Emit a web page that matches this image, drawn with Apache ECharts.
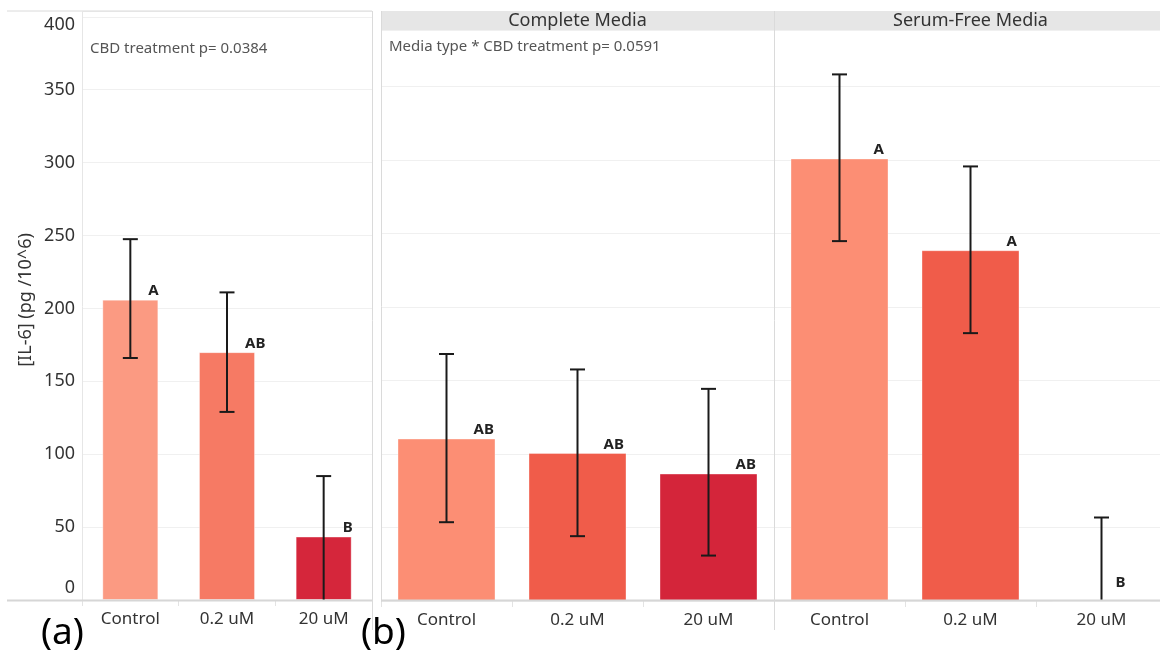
<!DOCTYPE html>
<html>
<head>
<meta charset="utf-8">
<script src="https://cdn.jsdelivr.net/npm/echarts@6/dist/echarts.min.js"></script>
<style>
  html, body { margin: 0; padding: 0; background: #fff; overflow: hidden; }
  #chart { width: 1170px; height: 650px; }
</style>
</head>
<body>
<div id="chart"></div>
<script>
// IL-6 concentration by CBD treatment, overall (a) and split by media type (b)
const categories = ['Control', '0.2 uM', '20 uM'];
const yTicks = [0, 50, 100, 150, 200, 250, 300, 350, 400];

// (a) CBD treatment main effect
const panelAMean = [206, 170, 43.5];
const panelALow = [166, 129, 0];
const panelAHigh = [247.5, 211, 85];
const panelALetters = ['A', 'AB', 'B'];

// (b) Complete Media
const completeMean = [110.5, 100.7, 86.7];
const completeLow = [53.6, 44.1, 30.9];
const completeHigh = [168, 157.5, 144.3];
const completeLetters = ['AB', 'AB', 'AB'];

// (b) Serum-Free Media
const serumMean = [301, 238.6, 0];
const serumLow = [244.8, 182.2, 0];
const serumHigh = [358.2, 295.6, 56.8];
const serumLetters = ['A', 'A', 'B'];

const panelTitles = ['Complete Media', 'Serum-Free Media'];
const noteA = 'CBD treatment p= 0.0384';
const noteB = 'Media type * CBD treatment p= 0.0591';
const yTitle = '[IL-6] (pg /10^6)';

// styling
const FONT = 'Noto Sans';
const colorsA = ['#FB9A82', '#F67A64', '#D5263B'];
const colorsB = ['#FC8E74', '#F05C4A', '#D4253A'];
const frame = '#DADADA';
const gridLine = '#F0F0F0';

// letter placement relative to each bar's top centre
const letterShift = {
  a: [[18, 0], [18, 0], [19, 0]],
  complete: [[27, 0], [26, 0], [27, 0]],
  serum: [[34, 0], [36, 0], [14, -9]]
};

const chart = echarts.init(document.getElementById('chart'), null, { renderer: 'canvas' });

function barSeries(idx, mean, colors, letters, shifts, width) {
  return {
    type: 'bar',
    xAxisIndex: idx,
    yAxisIndex: idx,
    barWidth: width,
    z: 2,
    data: mean.map((v, i) => ({
      value: v,
      itemStyle: { color: colors[i], borderColor: 'rgba(255,255,255,0.35)', borderWidth: 1 },
      label: { offset: shifts[i] }
    })),
    label: {
      show: true,
      position: 'top',
      distance: 1,
      align: 'left',
      fontFamily: FONT,
      fontSize: 15,
      fontWeight: 'bold',
      color: '#222',
      formatter: p => letters[p.dataIndex]
    }
  };
}

function errorSeries(idx, low, high) {
  return {
    type: 'custom',
    xAxisIndex: idx,
    yAxisIndex: idx,
    z: 5,
    silent: true,
    data: low.map((l, i) => [i, l, high[i]]),
    renderItem: (params, api) => {
      const i = api.value(0);
      const lo = api.value(1);
      const hi = api.value(2);
      const top = api.coord([i, hi]);
      const bot = api.coord([i, Math.max(lo, 0)]);
      const style = { stroke: '#1a1a1a', lineWidth: 2 };
      const half = 7.5;
      const children = [
        { type: 'line', shape: { x1: top[0], y1: top[1], x2: bot[0], y2: bot[1] }, style },
        { type: 'line', shape: { x1: top[0] - half, y1: top[1], x2: top[0] + half, y2: top[1] }, style }
      ];
      if (lo > 0) {
        children.push({ type: 'line', shape: { x1: bot[0] - half, y1: bot[1], x2: bot[0] + half, y2: bot[1] }, style });
      }
      return { type: 'group', children };
    }
  };
}

function xAxis(idx) {
  return {
    type: 'category',
    gridIndex: idx,
    data: categories,
    axisLine: { show: false },
    axisTick: { show: true, length: 6, lineStyle: { color: '#E3E3E3' } },
    axisLabel: { fontFamily: FONT, fontSize: 17, color: '#333', margin: 11 }
  };
}

function yAxis(idx, max, showLabels) {
  return {
    type: 'value',
    gridIndex: idx,
    min: 0,
    max: max,
    interval: 50,
    axisLine: { show: false },
    axisTick: { show: false },
    splitLine: { lineStyle: { color: gridLine, width: 1 } },
    axisLabel: {
      show: showLabels,
      fontFamily: FONT,
      fontSize: 18,
      color: '#333',
      margin: 7,
      formatter: v => {
        if (!yTicks.includes(v)) return '';
        if (v === yTicks[0]) return '{lo|' + v + '}';
        if (v === yTicks[yTicks.length - 1]) return '{hi|' + v + '}';
        return String(v);
      },
      rich: {
        lo: { fontFamily: FONT, fontSize: 18, color: '#333', padding: [0, 0, 24, 0] },
        hi: { fontFamily: FONT, fontSize: 18, color: '#333', padding: [16, 0, 0, 0] }
      }
    }
  };
}

const line = (x1, y1, x2, y2, color, w) => ({
  type: 'line', silent: true, z: 10,
  shape: { x1, y1, x2, y2 },
  style: { stroke: color, lineWidth: w || 1 }
});

const option = {
  backgroundColor: '#fff',
  animation: false,
  grid: [
    { left: 82, top: 11, width: 290, height: 589 },
    { left: 381, top: 30, width: 393, height: 571 },
    { left: 774, top: 30, width: 393, height: 571 }
  ],
  xAxis: [xAxis(0), xAxis(1), xAxis(2)],
  yAxis: [yAxis(0, 404, true), yAxis(1, 388.4, false), yAxis(2, 388.4, false)],
  series: [
    barSeries(0, panelAMean, colorsA, panelALetters, letterShift.a, 56),
    errorSeries(0, panelALow, panelAHigh),
    barSeries(1, completeMean, colorsB, completeLetters, letterShift.complete, 98),
    errorSeries(1, completeLow, completeHigh),
    barSeries(2, serumMean, colorsB, serumLetters, letterShift.serum, 98),
    errorSeries(2, serumLow, serumHigh)
  ],
  graphic: [
    // panel frames
    line(7, 11, 372, 11, frame),
    line(82.5, 11, 82.5, 602, '#E6E6E6'),
    line(372.5, 11, 372.5, 630, frame),
    line(7, 600.5, 372, 600.5, '#D6D6D6', 2),
    line(381.5, 11, 381.5, 602, frame),
    line(381, 600.5, 1170, 600.5, '#D6D6D6', 2),
    line(774.5, 11, 774.5, 630, frame),
    // facet headers
    { type: 'rect', silent: true, z: 9, shape: { x: 382, y: 11, width: 788, height: 19 }, style: { fill: '#E6E6E6' } },
    { type: 'text', silent: true, z: 11, style: { x: 577.5, y: 21, text: panelTitles[0], align: 'center', verticalAlign: 'middle', font: '18px "' + FONT + '"', fill: '#333' } },
    { type: 'text', silent: true, z: 11, style: { x: 970.5, y: 21, text: panelTitles[1], align: 'center', verticalAlign: 'middle', font: '18px "' + FONT + '"', fill: '#333' } },
    // test annotations
    { type: 'text', silent: true, z: 11, style: { x: 90, y: 49, text: noteA, align: 'left', verticalAlign: 'middle', font: '15px "' + FONT + '"', fill: '#555' } },
    { type: 'text', silent: true, z: 11, style: { x: 389, y: 47, text: noteB, align: 'left', verticalAlign: 'middle', font: '15px "' + FONT + '"', fill: '#555' } },
    // y axis title
    { type: 'text', silent: true, z: 11, rotation: Math.PI / 2, x: 26, y: 300, style: { x: 0, y: 0, text: yTitle, align: 'center', verticalAlign: 'middle', font: '18px "' + FONT + '"', fill: '#333' } },
    // panel tags
    { type: 'text', silent: true, z: 12, style: { x: 41, y: 633, text: '(a)', align: 'left', verticalAlign: 'middle', font: '37px "' + FONT + '"', fill: '#000' } },
    { type: 'text', silent: true, z: 12, style: { x: 361, y: 633, text: '(b)', align: 'left', verticalAlign: 'middle', font: '37px "' + FONT + '"', fill: '#000' } }
  ]
};

chart.setOption(option);
</script>
</body>
</html>
